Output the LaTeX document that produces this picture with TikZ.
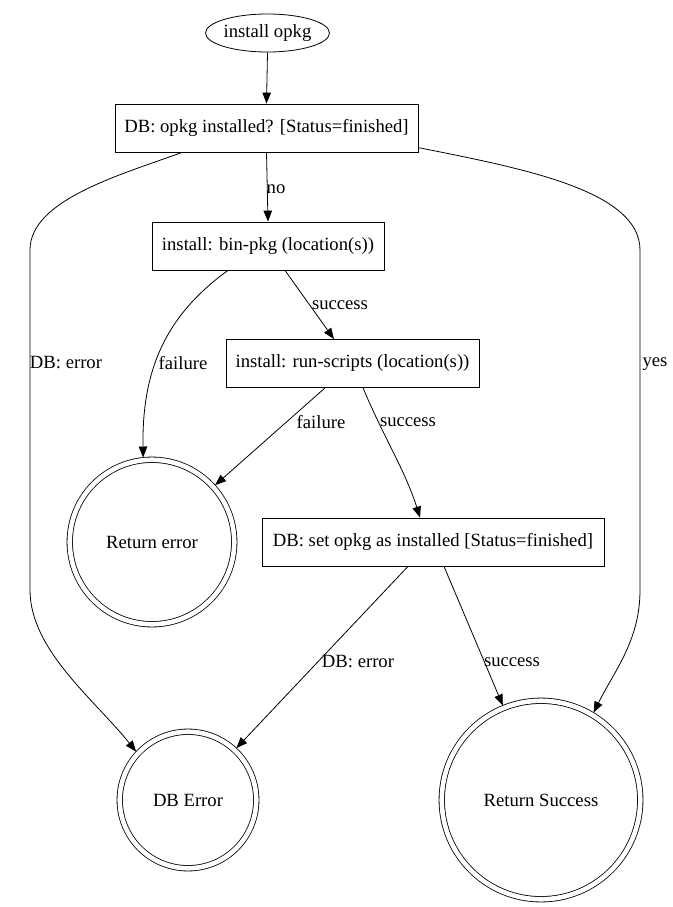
\documentclass[tikz,border=0pt]{standalone}
\usepackage{fontspec}
\setmainfont{Liberation Serif}
\usetikzlibrary{arrows.meta,shapes.geometric,calc}
\begin{document}
\begin{tikzpicture}[x=1pt,y=-1pt,
  every node/.style={font=\fontsize{18.67}{22}\selectfont},
  boxn/.style={draw,line width=0.8pt,rectangle,minimum height=48pt,inner xsep=6pt,inner ysep=0pt},
  elln/.style={draw,line width=0.8pt,ellipse,minimum width=122pt,minimum height=38pt,inner sep=0pt},
  dcirc/.style={draw,line width=0.8pt,circle,double,double distance=4.6pt,inner sep=0pt,outer sep=2.7pt},
  lbl/.style={inner sep=0pt},
  edge/.style={line width=0.8pt,-{Triangle[length=11pt,width=8.5pt]}},
  plain/.style={line width=0.8pt}]
\useasboundingbox (0,0) rectangle (672,907);

\node[elln] (start) at (267.5,33) {install opkg};
\node[boxn,minimum width=303pt] (b1) at (266.5,128) {DB: opkg installed? [Status=finished]};
\node[boxn,minimum width=232pt] (b2) at (268,246) {install: bin-pkg (location(s))};
\node[boxn,minimum width=253pt] (b3) at (352.5,363.5) {install: run-scripts (location(s))};
\node[boxn,minimum width=342pt] (b4) at (433,542) {DB: set opkg as installed [Status=finished]};

\node[dcirc,minimum size=164.5pt] (rerr) at (152,542) {Return error};
\node[dcirc,minimum size=136.5pt] (dberr) at (188,800) {DB Error};
\node[dcirc,minimum size=198.5pt] (rsucc) at (541,800) {Return Success};

% labels
\node[lbl] (lno) at (276,189) {no};
\node[lbl] (ldb1) at (66,363) {DB: error};
\node[lbl] (lf1) at (183,363) {failure};
\node[lbl] (ls1) at (340,305) {success};
\node[lbl] (lf2) at (321,422) {failure};
\node[lbl] (ls2) at (408,422) {success};
\node[lbl] (lyes) at (655,364) {yes};
\node[lbl] (ldb2) at (358,662) {DB: error};
\node[lbl] (ls3) at (512,662) {success};

% edges
\draw[edge] (start.south) -- (b1.north);
\draw[edge] (b1.south) -- (b2.north);
\coordinate (l1) at ($(b1.south west)+(67.5,0)$);
\draw[edge] (l1) .. controls (120,175) and (30,200) .. (30,250) -- (30,590)
   .. controls (30,650) and (95,700) .. (dberr.137);
\coordinate (r1) at ($(b1.north east)+(0,44)$);
\draw[edge] (r1) .. controls (520,168) and (640,190) .. (640,250) -- (640,590)
   .. controls (640,640) and (615,670) .. (rsucc.59);
\coordinate (b2s) at ($(b2.south)+(17,0)$);
\draw[edge] (b2s) -- (b3.north -| 334,0);
\coordinate (b2f) at ($(b2.south)+(-40,0)$);
\draw[edge] (b2f) .. controls (162,318) and (142,375) .. (rerr.96);
\coordinate (b3f) at ($(b3.south)+(-27.5,0)$);
\draw[edge] (b3f) -- (rerr.42);
\coordinate (b3s) at ($(b3.south)+(10.5,0)$);
\draw[edge] (b3s) .. controls (385,440) and (405,470) .. (b4.north -| 420,0);
\coordinate (b4e) at ($(b4.south)+(-25,0)$);
\draw[edge] (b4e) -- (dberr.47);
\coordinate (b4s) at ($(b4.south)+(11,0)$);
\draw[edge] (b4s) -- (rsucc.112);
\end{tikzpicture}
\end{document}
